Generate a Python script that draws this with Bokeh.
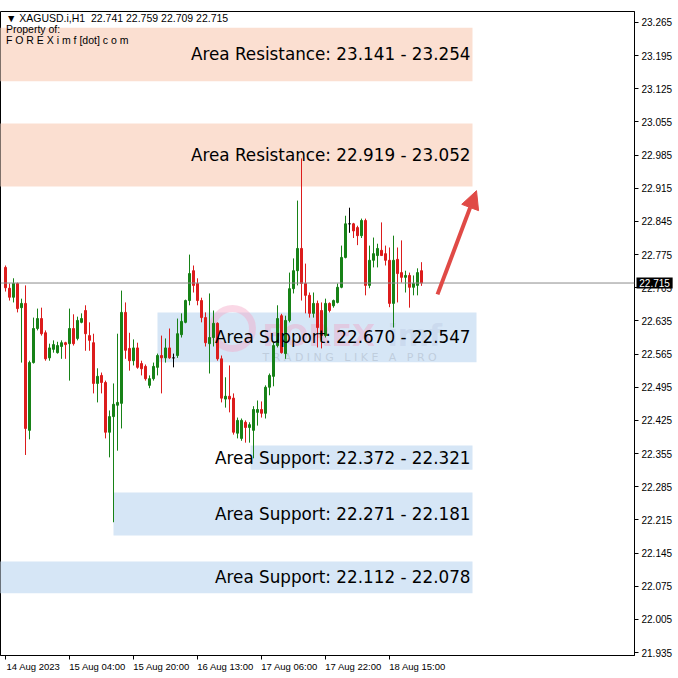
from bokeh.plotting import figure
from bokeh.models import (FixedTicker, PrintfTickFormatter, Span, Label,
                          Arrow, NormalHead, ColumnDataSource)
from bokeh.core.properties import value
from bokeh.embed import file_html
from bokeh.resources import INLINE

# ---------------- data (XAGUSD.i, H1) ----------------
opens = [22.748, 22.704, 22.685, 22.714, 22.663, 22.672, 22.404, 22.547, 22.619, 22.640,
         22.610, 22.557, 22.575, 22.568, 22.581, 22.589, 22.587, 22.619, 22.598, 22.632,
         22.657, 22.604, 22.589, 22.503, 22.520, 22.505, 22.400, 22.433, 22.457, 22.461,
         22.653, 22.577, 22.551, 22.578, 22.545, 22.539, 22.499, 22.513, 22.537, 22.562,
         22.557, 22.578, 22.557, 22.562, 22.606, 22.632, 22.678, 22.741, 22.714, 22.678,
         22.642, 22.587, 22.600, 22.630, 22.555, 22.470, 22.476, 22.472, 22.398, 22.387,
         22.421, 22.410, 22.404, 22.442, 22.448, 22.440, 22.495, 22.518, 22.583, 22.646,
         22.566, 22.636, 22.703, 22.741, 22.788, 22.714, 22.689, 22.651, 22.672, 22.657,
         22.604, 22.672, 22.667, 22.674, 22.706, 22.769, 22.840, 22.840, 22.832, 22.815,
         22.847, 22.710, 22.763, 22.773, 22.784, 22.777, 22.763, 22.672, 22.765, 22.737,
         22.727, 22.731, 22.706, 22.710, 22.741]
highs = [22.752, 22.714, 22.725, 22.716, 22.682, 22.710, 22.551, 22.642, 22.661, 22.663,
         22.615, 22.587, 22.594, 22.591, 22.594, 22.591, 22.661, 22.649, 22.644, 22.651,
         22.668, 22.632, 22.608, 22.535, 22.526, 22.509, 22.446, 22.503, 22.608, 22.699,
         22.674, 22.610, 22.596, 22.589, 22.551, 22.543, 22.520, 22.547, 22.566, 22.604,
         22.598, 22.619, 22.566, 22.640, 22.651, 22.680, 22.775, 22.752, 22.725, 22.684,
         22.653, 22.693, 22.657, 22.632, 22.562, 22.516, 22.541, 22.482, 22.431, 22.429,
         22.425, 22.421, 22.455, 22.467, 22.465, 22.499, 22.524, 22.589, 22.668, 22.650,
         22.646, 22.737, 22.767, 22.889, 22.978, 22.756, 22.695, 22.695, 22.678, 22.674,
         22.682, 22.674, 22.680, 22.714, 22.794, 22.857, 22.874, 22.842, 22.836, 22.851,
         22.851, 22.794, 22.811, 22.798, 22.843, 22.794, 22.790, 22.815, 22.790, 22.805,
         22.741, 22.737, 22.731, 22.746, 22.759]
lows = [22.697, 22.678, 22.674, 22.653, 22.547, 22.352, 22.385, 22.545, 22.615, 22.604,
        22.551, 22.551, 22.568, 22.566, 22.555, 22.555, 22.509, 22.583, 22.594, 22.630,
        22.572, 22.572, 22.482, 22.463, 22.482, 22.387, 22.347, 22.210, 22.361, 22.408,
        22.555, 22.530, 22.541, 22.534, 22.520, 22.509, 22.493, 22.509, 22.520, 22.482,
        22.547, 22.555, 22.537, 22.557, 22.600, 22.630, 22.668, 22.695, 22.668, 22.632,
        22.581, 22.524, 22.581, 22.551, 22.463, 22.452, 22.442, 22.395, 22.387, 22.382,
        22.378, 22.378, 22.345, 22.414, 22.431, 22.429, 22.478, 22.497, 22.579, 22.566,
        22.555, 22.632, 22.693, 22.710, 22.678, 22.651, 22.642, 22.642, 22.579, 22.577,
        22.600, 22.653, 22.663, 22.672, 22.704, 22.767, 22.821, 22.810, 22.795, 22.810,
        22.689, 22.704, 22.748, 22.748, 22.773, 22.752, 22.664, 22.621, 22.674, 22.716,
        22.695, 22.663, 22.689, 22.689, 22.709]
closes = [22.705, 22.685, 22.714, 22.661, 22.672, 22.408, 22.547, 22.619, 22.640, 22.608,
          22.555, 22.578, 22.585, 22.583, 22.589, 22.585, 22.619, 22.587, 22.636, 22.640,
          22.608, 22.594, 22.503, 22.518, 22.505, 22.400, 22.433, 22.459, 22.463, 22.653,
          22.573, 22.551, 22.578, 22.537, 22.534, 22.513, 22.513, 22.539, 22.562, 22.557,
          22.578, 22.557, 22.557, 22.608, 22.634, 22.678, 22.735, 22.710, 22.678, 22.642,
          22.589, 22.600, 22.630, 22.555, 22.472, 22.476, 22.470, 22.400, 22.425, 22.425,
          22.410, 22.416, 22.448, 22.448, 22.440, 22.495, 22.520, 22.583, 22.640, 22.568,
          22.636, 22.703, 22.741, 22.788, 22.714, 22.689, 22.651, 22.672, 22.621, 22.604,
          22.672, 22.657, 22.678, 22.706, 22.769, 22.840, 22.840, 22.825, 22.815, 22.847,
          22.710, 22.763, 22.777, 22.788, 22.773, 22.763, 22.672, 22.763, 22.735, 22.727,
          22.731, 22.706, 22.714, 22.737, 22.715]

# x axis (bar index) ticks and labels
x_ticks = [0, 16, 32, 48, 64, 80, 96]
x_tick_labels = ["14 Aug 2023", "15 Aug 04:00", "15 Aug 20:00", "16 Aug 13:00",
                 "17 Aug 06:00", "17 Aug 22:00", "18 Aug 15:00"]
# price axis ticks
y_ticks = [21.935, 22.005, 22.075, 22.145, 22.215, 22.285, 22.355, 22.425, 22.495, 22.565,
           22.635, 22.705, 22.775, 22.845, 22.915, 22.985, 23.055, 23.125, 23.195, 23.265]

# zones
zone_labels = ["Area Resistance: 23.141 - 23.254", "Area Resistance: 22.919 - 23.052",
               "Area Support: 22.670 - 22.547", "Area Support: 22.372 - 22.321",
               "Area Support: 22.271 - 22.181", "Area Support: 22.112 - 22.078"]
zone_top = [23.254, 23.052, 22.653, 22.372, 22.273, 22.127]
zone_bottom = [23.141, 22.919, 22.548, 22.321, 22.182, 22.060]
zone_start = [-5, -5, 38, 61.25, 27, -5]
zone_end = [116.75, 116.75, 117.75, 116.75, 116.75, 116.75]
zone_kind = ["res", "res", "sup", "sup", "sup", "sup"]

last_price = 22.715
arrow_from = (108, 22.691)
arrow_to = (117.75, 22.910)

NB = "\u00a0"
header_lines = ["\u25bc" + NB + "XAGUSD.i,H1" + NB + NB + "22.741 22.759 22.709 22.715",
                "Property of:", "F O R E X i m f [dot] c o m"]
header_y = [23.2755, 23.251, 23.228]

# ---------------- styling ----------------
GREEN = "#178217"
RED = "#dc1c1c"
RES_COL = "#fbdfd1"
SUP_COL = "#d6e6f6"
ARROW_COL = "#e04a46"
X_RANGE = (-1.25, 157.25)
Y_RANGE = (21.9287, 23.2882)

p = figure(frame_width=634, frame_height=644, x_range=X_RANGE, y_range=Y_RANGE,
           y_axis_location="right", toolbar_location=None, output_backend="svg",
           min_border_left=0, min_border_top=0, min_border_right=0, min_border_bottom=0,
           background_fill_color="white", border_fill_color="white")
p.xgrid.visible = False
p.ygrid.visible = False
p.outline_line_color = "black"
p.outline_line_width = 1

# zones
zsrc = ColumnDataSource(dict(
    left=zone_start, right=zone_end, top=zone_top, bottom=zone_bottom,
    color=[RES_COL if k == "res" else SUP_COL for k in zone_kind]))
p.quad(left="left", right="right", top="top", bottom="bottom", fill_color="color",
       line_color=None, source=zsrc)

# watermark (faint)
p.scatter(x=[56.75], y=[22.619], size=40, marker="circle", fill_color=None,
          line_color="#f3a9c8", line_width=7, line_alpha=0.45)
p.text(x=[64.25], y=[22.604], text=["FOREX"], text_font=value("DejaVu Sans"),
       text_font_size="30px", text_font_style="bold", text_color="#f39cc0", text_alpha=0.4,
       text_align="left", text_baseline="middle")
p.text(x=[95.5], y=[22.604], text=["imf"], text_font=value("DejaVu Sans"),
       text_font_size="30px", text_font_style="bold", text_color="#b9c8e3", text_alpha=0.4,
       text_align="left", text_baseline="middle")
p.text(x=[64.25], y=[22.558],
       text=[NB.join(list("TRADING")) + NB * 3 + NB.join(list("LIKE")) + NB * 3 + "A" + NB * 3
             + NB.join(list("PRO"))],
       text_font=value("DejaVu Sans"), text_font_size="11px", text_color="#a9b4c4",
       text_alpha=0.5, text_align="left", text_baseline="middle")

# current price line
p.add_layout(Span(location=last_price, dimension="width", line_color="#8c8c8c", line_width=1))

# candles
idx = list(range(len(opens)))
colors = [GREEN if c > o else (RED if c < o else "black") for o, c in zip(opens, closes)]
csrc = ColumnDataSource(dict(
    x=idx, o=opens, h=highs, l=lows, c=closes, color=colors,
    top=[max(o, c) for o, c in zip(opens, closes)],
    bottom=[min(o, c) for o, c in zip(opens, closes)]))
p.segment(x0="x", y0="l", x1="x", y1="h", line_color="color", line_width=1, source=csrc)
p.vbar(x="x", width=0.5, top="top", bottom="bottom", fill_color="color", line_color="color",
       line_width=1, source=csrc)

# zone texts
text_right = min(zone_end) - 0.5
p.text(x=[text_right] * len(zone_labels),
       y=[(t + b) / 2 for t, b in zip(zone_top, zone_bottom)],
       text=zone_labels, text_font=value("DejaVu Sans"), text_font_size="16.8px",
       text_color="black", text_align="right", text_baseline="middle")

# header texts
p.text(x=[0.1] * 3, y=header_y, text=header_lines,
       text_font=value("Liberation Sans"), text_font_size="10.5px", text_color="black",
       text_align="left", text_baseline="middle")

# arrow
p.add_layout(Arrow(end=NormalHead(size=18, fill_color=ARROW_COL, line_color=ARROW_COL),
                   x_start=arrow_from[0], y_start=arrow_from[1],
                   x_end=arrow_to[0], y_end=arrow_to[1],
                   line_color=ARROW_COL, line_width=4))

# price axis (right)
ya = p.yaxis[0]
ya.ticker = FixedTicker(ticks=y_ticks)
ya.formatter = PrintfTickFormatter(format="%.3f")
ya.major_label_text_font = "Liberation Sans"
ya.major_label_text_font_size = "10px"
ya.major_label_text_color = "black"
ya.major_tick_out = 4
ya.major_tick_in = 0
ya.minor_tick_line_color = None
ya.axis_line_color = "black"
ya.major_label_standoff = 3

# time axis: tick marks at the bar (minor ticks), labels placed to the right of them
label_shift = 7
lab_ticks = [t + label_shift for t in x_ticks]
xa = p.xaxis[0]
xa.ticker = FixedTicker(ticks=lab_ticks, minor_ticks=x_ticks)
xa.major_label_overrides = {t: s for t, s in zip(lab_ticks, x_tick_labels)}
xa.major_tick_line_color = None
xa.major_tick_out = 3
xa.major_tick_in = 0
xa.minor_tick_line_color = "black"
xa.minor_tick_out = 4
xa.minor_tick_in = 0
xa.axis_line_color = "black"
xa.major_label_standoff = 1
xa.major_label_text_font = "Liberation Sans"
xa.major_label_text_font_size = "9.5px"
xa.major_label_text_color = "black"

# price tag on the axis (placed in a side panel so that it is not clipped to the frame)
p.add_layout(Label(x=636, y=last_price, x_units="screen", y_units="data",
                   text=NB + "22.715" + NB, text_color="white", background_fill_color="black",
                   text_font="Liberation Sans", text_font_size="10px",
                   text_align="left", text_baseline="middle"), "above")

open("out.html", "w").write(file_html(p, INLINE))
